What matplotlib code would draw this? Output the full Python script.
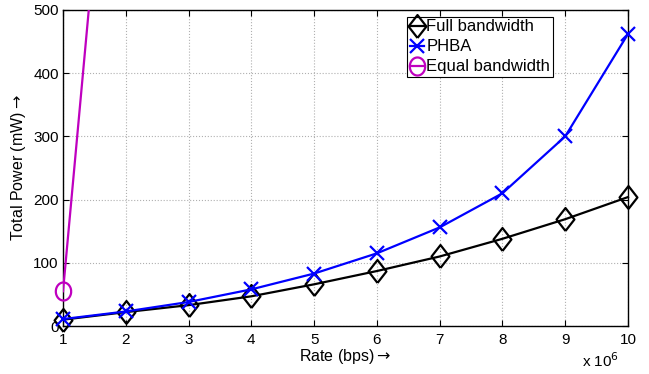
import matplotlib
matplotlib.use("Agg")
import numpy as np
import matplotlib.pyplot as plt
from matplotlib.lines import Line2D

plt.rcParams['font.family'] = ['Liberation Sans', 'DejaVu Sans']

rate = [1, 2, 3, 4, 5, 6, 7, 8, 9, 10]
full_bw = [10, 22, 33, 47, 66, 87, 110, 138, 169, 204]
phba = [11, 23, 38, 58, 83, 115, 156, 210, 300, 462]
equal_bw = [55, 1140, 2600, 4500, 7000, 10000, 14000, 19000, 25000, 32000]

xticks = [1, 2, 3, 4, 5, 6, 7, 8, 9, 10]
yticks = [0, 100, 200, 300, 400, 500]

MAG = '#bf00bf'
LW = 1.6

# marker shapes (MATLAB-like: slightly tall diamond, slightly tall circle)
diamond = [(0, -1), (0.78, 0), (0, 1), (-0.78, 0), (0, -1)]
_t = np.linspace(0, 2 * np.pi, 61)
ellipse = list(zip(0.85 * np.cos(_t), np.sin(_t)))

D_MS = 16.5
X_MS = 9.5
O_MS = 13

fig = plt.figure(figsize=(6.49, 3.74), dpi=100)
ax = fig.add_axes([0.0971, 0.1283, 0.8705, 0.845])

ax.plot(rate, full_bw, color='black', lw=LW, marker=diamond, ms=D_MS, mfc='none',
        mec='black', mew=LW, zorder=3, clip_on=False)
ax.plot(rate, phba, color='blue', lw=LW, marker='x', ms=X_MS, mew=LW,
        zorder=4, clip_on=False)
ax.plot(rate, equal_bw, color=MAG, lw=LW, zorder=5)
eq_in = [(r, v) for r, v in zip(rate, equal_bw) if v <= 500]
ax.plot([p[0] for p in eq_in], [p[1] for p in eq_in], ls='none', marker=ellipse,
        ms=O_MS, mfc='none', mec=MAG, mew=LW, zorder=5, clip_on=False)

ax.set_xlim(1, 10)
ax.set_ylim(0, 500)
ax.set_xticks(xticks)
ax.set_yticks(yticks)
ax.tick_params(direction='in', top=True, right=True, labelsize=11, length=4)
ax.tick_params(axis='x', pad=5)
ax.tick_params(axis='y', pad=3)
ax.grid(True, linestyle=':', color='#b0b0b0', lw=0.8)
ax.set_axisbelow(True)
for s in ax.spines.values():
    s.set_linewidth(1.0)

ax.set_xlabel('Rate (bps)$\\rightarrow$', fontsize=11.5, labelpad=0)
ax.set_ylabel('Total Power (mW)$\\rightarrow$', fontsize=11.5, labelpad=4)
fig.text(0.896, 0.012, 'x 10$^{6}$', fontsize=11, ha='left', va='bottom')

handles = [
    Line2D([], [], color='black', lw=LW, marker=diamond, ms=D_MS, mfc='none', mec='black', mew=LW),
    Line2D([], [], color='blue', lw=LW, marker='x', ms=X_MS, mew=LW),
    Line2D([], [], color=MAG, lw=LW, marker=ellipse, ms=O_MS, mfc='none', mec=MAG, mew=LW),
]
labels = ['Full bandwidth', 'PHBA', 'Equal bandwidth']
leg = ax.legend(handles, labels, loc='upper left', bbox_to_anchor=(0.609, 0.978),
                fontsize=12, frameon=True, fancybox=False, edgecolor='black',
                framealpha=1, handlelength=0.85, handletextpad=0.15, borderpad=0.15,
                labelspacing=0.3, borderaxespad=0)
leg.get_frame().set_linewidth(0.8)

fig.savefig('out.png', dpi=100)
